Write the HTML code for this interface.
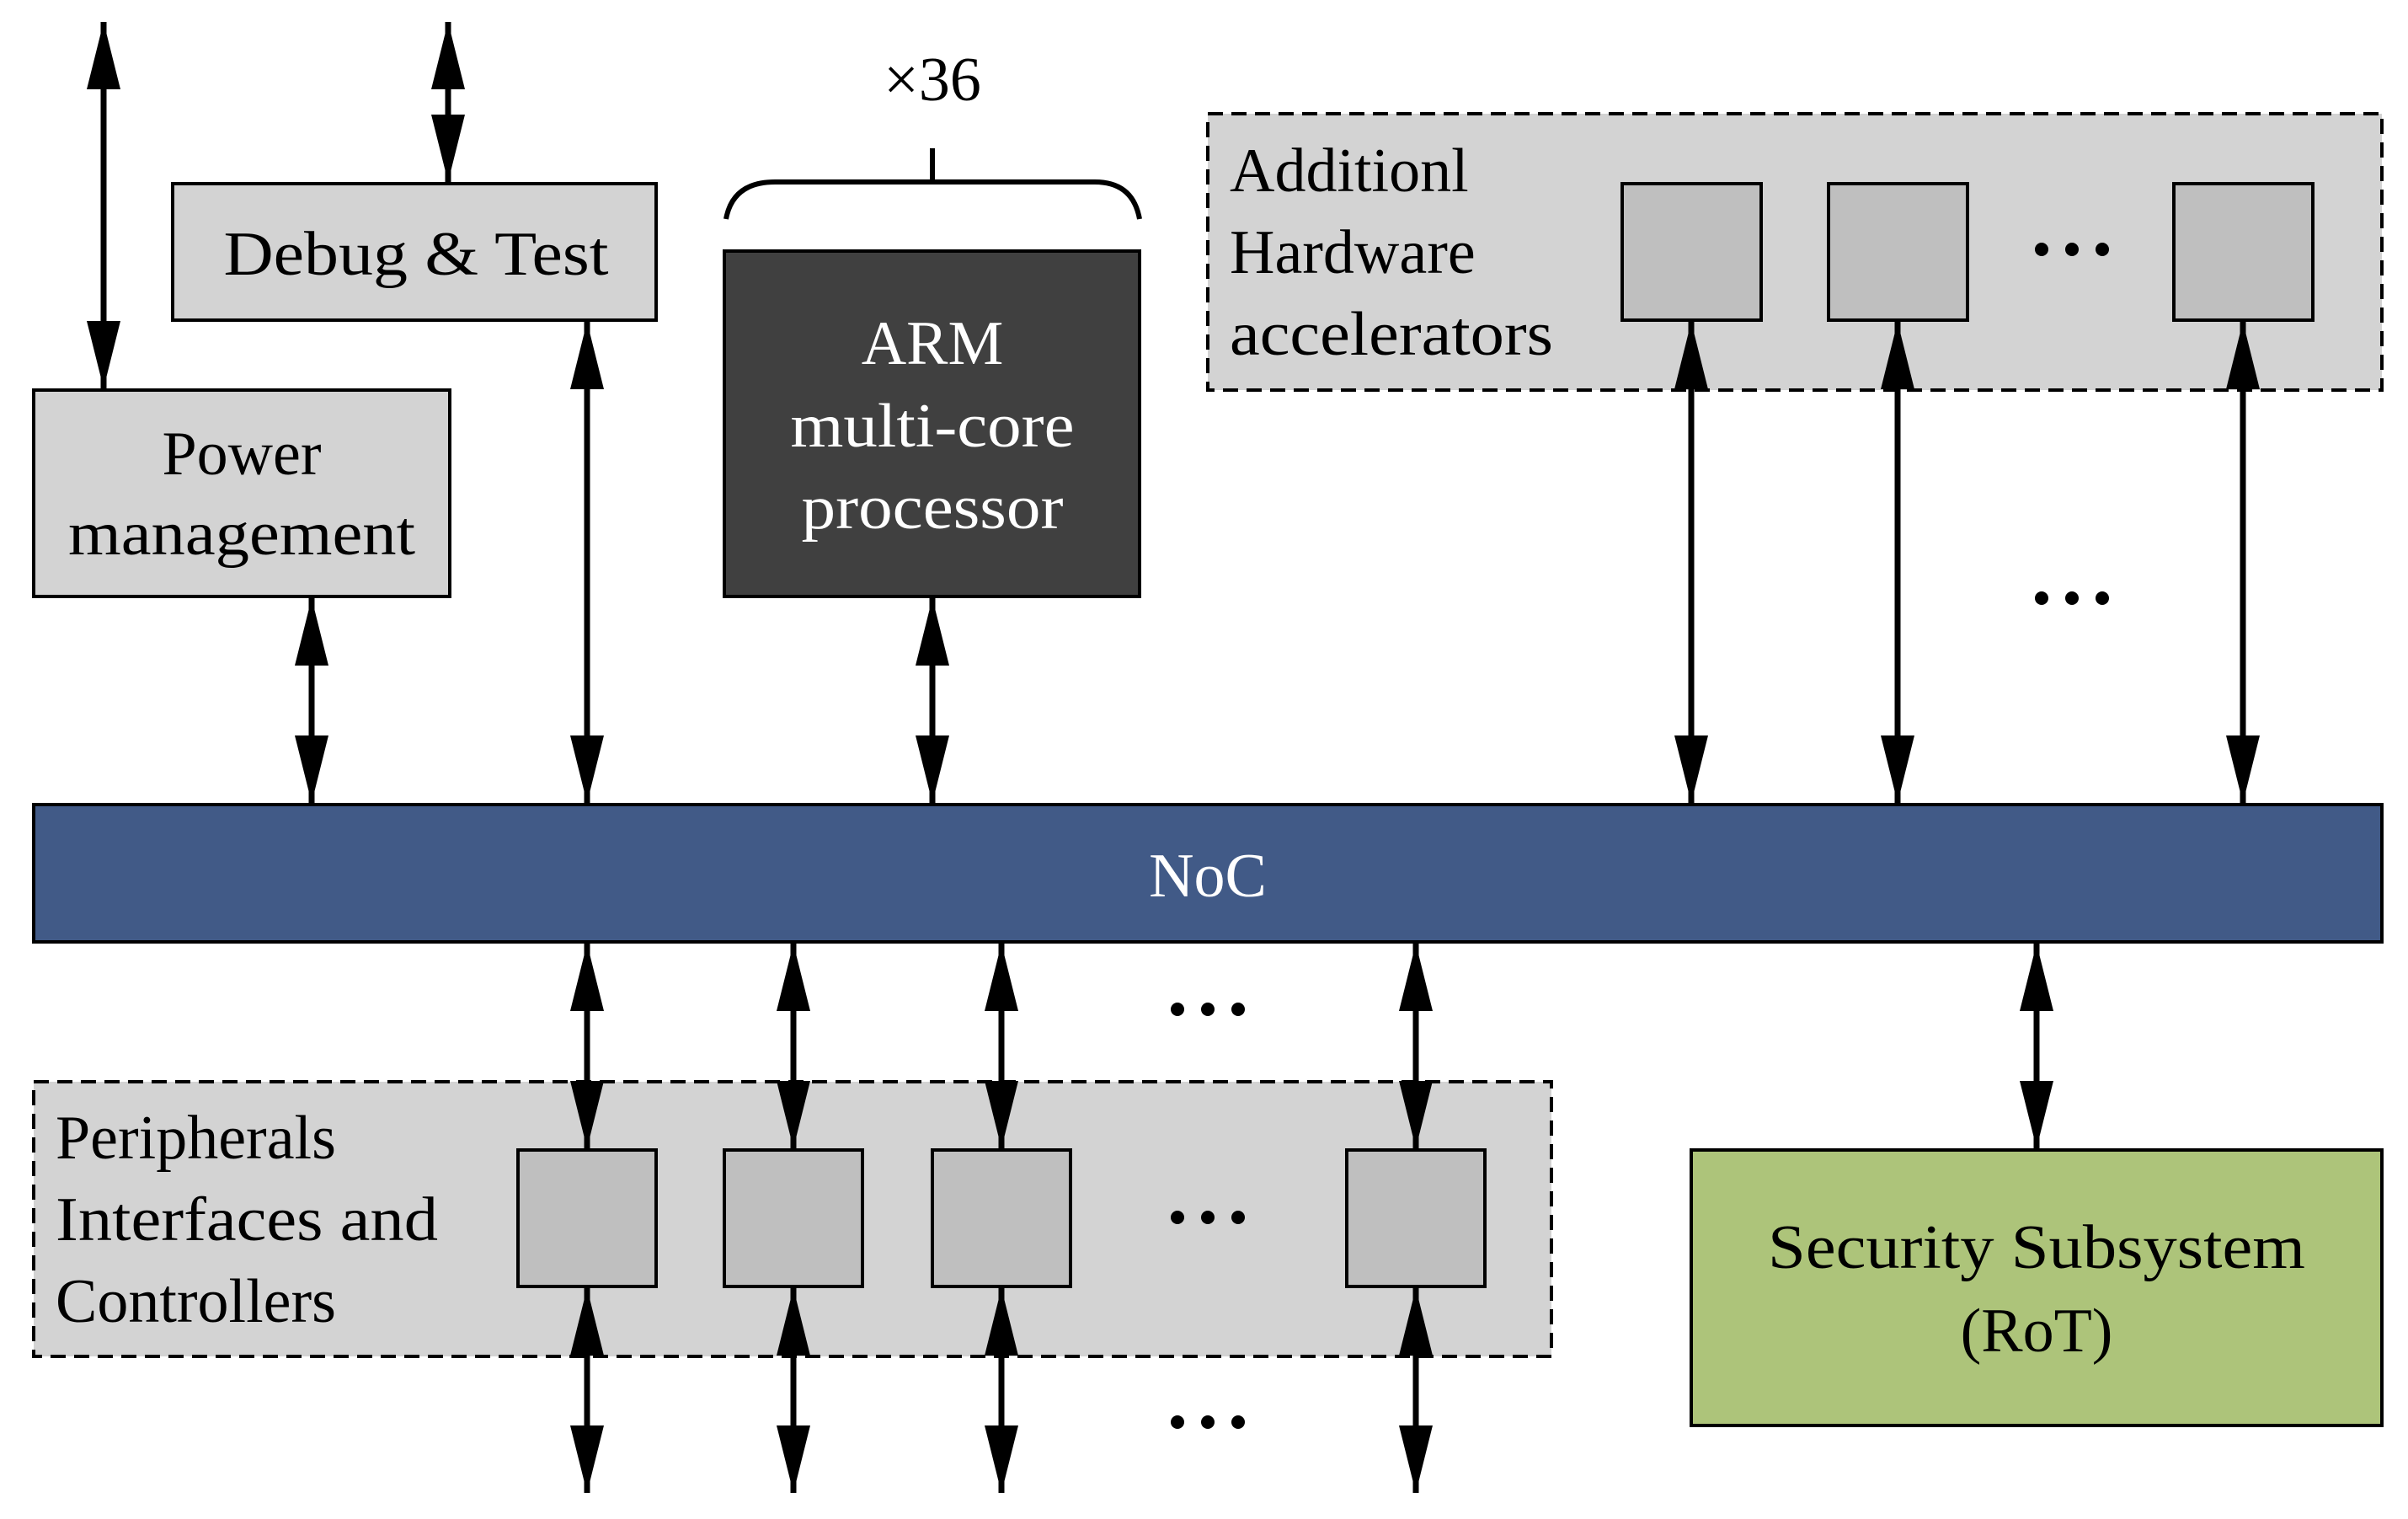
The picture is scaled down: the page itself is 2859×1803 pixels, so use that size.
<!DOCTYPE html>
<html><head><meta charset="utf-8"><style>html,body{margin:0;padding:0;background:#fff}svg{display:block}</style></head>
<body>
<svg width="2859" height="1803" viewBox="0 0 2859 1803" xmlns="http://www.w3.org/2000/svg" font-family="'Liberation Serif', serif" font-size="74">
<defs>
<marker id="a" viewBox="0 0 80 40" refX="80" refY="20" markerWidth="80" markerHeight="40" markerUnits="userSpaceOnUse" orient="auto-start-reverse">
<path d="M0,0 L80,20 L0,40 z" fill="#000"/>
</marker>
</defs>
<style>
.ar{stroke:#000;stroke-width:7;fill:none;marker-start:url(#a);marker-end:url(#a)}
.bx{stroke:#000;stroke-width:4}
</style>
<rect x="1434" y="135" width="1394" height="328" fill="#d3d3d3" stroke="#000" stroke-width="4" stroke-dasharray="18,10"/>
<rect x="40" y="1284" width="1802" height="326" fill="#d3d3d3" stroke="#000" stroke-width="4" stroke-dasharray="18,10"/>

<rect class="bx" x="205" y="218" width="574" height="162" fill="#d3d3d3"/>
<rect class="bx" x="40" y="463" width="494" height="245" fill="#d3d3d3"/>
<rect class="bx" x="860" y="298" width="493" height="410" fill="#404040"/>
<rect class="bx" x="40" y="955" width="2788" height="163" fill="#415a87"/>
<rect class="bx" x="2008" y="1365" width="820" height="327" fill="#adc47a"/>

<rect class="bx" x="1926" y="218" width="165" height="162" fill="#bfbfbf"/>
<rect class="bx" x="2171" y="218" width="165" height="162" fill="#bfbfbf"/>
<rect class="bx" x="2581" y="218" width="165" height="162" fill="#bfbfbf"/>

<rect class="bx" x="615" y="1365" width="164" height="162" fill="#bfbfbf"/>
<rect class="bx" x="860" y="1365" width="164" height="162" fill="#bfbfbf"/>
<rect class="bx" x="1107" y="1365" width="164" height="162" fill="#bfbfbf"/>
<rect class="bx" x="1599" y="1365" width="164" height="162" fill="#bfbfbf"/>

<path d="M862,260 Q870,216 920,216 L1300,216 Q1345,216 1353,260" fill="none" stroke="#000" stroke-width="6"/>
<line x1="1107" y1="176" x2="1107" y2="216" stroke="#000" stroke-width="6"/>

<line class="ar" x1="123" y1="26" x2="123" y2="461"/>
<line class="ar" x1="532" y1="26" x2="532" y2="216"/>
<line class="ar" x1="370" y1="710" x2="370" y2="953"/>
<line class="ar" x1="697" y1="382" x2="697" y2="953"/>
<line class="ar" x1="1107" y1="710" x2="1107" y2="953"/>
<line class="ar" x1="2008" y1="382" x2="2008" y2="953"/>
<line class="ar" x1="2253" y1="382" x2="2253" y2="953"/>
<line class="ar" x1="2663" y1="382" x2="2663" y2="953"/>

<line class="ar" x1="697" y1="1120" x2="697" y2="1363"/>
<line class="ar" x1="942" y1="1120" x2="942" y2="1363"/>
<line class="ar" x1="1189" y1="1120" x2="1189" y2="1363"/>
<line class="ar" x1="1681" y1="1120" x2="1681" y2="1363"/>
<line class="ar" x1="2418" y1="1120" x2="2418" y2="1363"/>

<line class="ar" x1="697" y1="1529" x2="697" y2="1772"/>
<line class="ar" x1="942" y1="1529" x2="942" y2="1772"/>
<line class="ar" x1="1189" y1="1529" x2="1189" y2="1772"/>
<line class="ar" x1="1681" y1="1529" x2="1681" y2="1772"/>

<g fill="#000">
<circle cx="2424" cy="296" r="8"/><circle cx="2460" cy="296" r="8"/><circle cx="2496" cy="296" r="8"/>
<circle cx="2424" cy="710" r="8"/><circle cx="2460" cy="710" r="8"/><circle cx="2496" cy="710" r="8"/>
<circle cx="1398" cy="1198" r="8"/><circle cx="1434" cy="1198" r="8"/><circle cx="1470" cy="1198" r="8"/>
<circle cx="1398" cy="1445" r="8"/><circle cx="1434" cy="1445" r="8"/><circle cx="1470" cy="1445" r="8"/>
<circle cx="1398" cy="1688" r="8"/><circle cx="1434" cy="1688" r="8"/><circle cx="1470" cy="1688" r="8"/>
</g>

<text x="1107" y="119" text-anchor="middle">×36</text>
<text x="494" y="326" text-anchor="middle" textLength="457" lengthAdjust="spacingAndGlyphs">Debug &amp; Test</text>
<text x="287" y="563" text-anchor="middle">Power</text>
<text x="287" y="658" text-anchor="middle" textLength="412" lengthAdjust="spacingAndGlyphs">management</text>
<g fill="#fff" text-anchor="middle">
<text x="1107" y="432">ARM</text>
<text x="1107" y="530" textLength="337" lengthAdjust="spacingAndGlyphs">multi-core</text>
<text x="1107" y="627" textLength="311" lengthAdjust="spacingAndGlyphs">processor</text>
<text x="1434" y="1064">NoC</text>
</g>
<text x="1460" y="227">Additionl</text>
<text x="1460" y="324">Hardware</text>
<text x="1460" y="421" textLength="384" lengthAdjust="spacingAndGlyphs">accelerators</text>
<text x="66" y="1375">Peripherals</text>
<text x="66" y="1472" textLength="454" lengthAdjust="spacingAndGlyphs">Interfaces and</text>
<text x="66" y="1569">Controllers</text>
<text x="2418" y="1505" text-anchor="middle" textLength="638" lengthAdjust="spacingAndGlyphs">Security Subsystem</text>
<text x="2418" y="1604" text-anchor="middle">(RoT)</text>
</svg>
</body></html>
